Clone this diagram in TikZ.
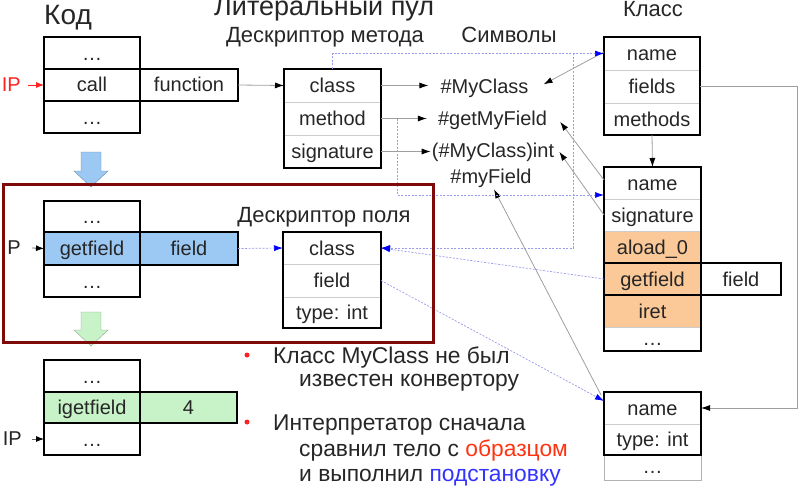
\documentclass[tikz,border=0pt]{standalone}
\usepackage{fontspec}
\setmainfont{Liberation Sans}
\usetikzlibrary{arrows.meta}
\definecolor{orangecell}{HTML}{FBC897}
\definecolor{bluecell}{HTML}{9CC8F4}
\definecolor{greencell}{HTML}{C8F2C8}
\definecolor{darkred}{HTML}{7F0A0A}
\definecolor{lav}{HTML}{9A9AEE}
\definecolor{txt}{HTML}{262626}
\definecolor{redtxt}{HTML}{FF3311}
\definecolor{bluetxt}{HTML}{3333FF}
\definecolor{ipred}{HTML}{FF2222}
\tikzset{
  cell/.style={draw=black!20, line width=0.8pt, inner sep=0pt, outer sep=0pt,
    minimum width=#1, minimum height=32pt, text height=17pt, text depth=3pt,
    font=\fontsize{20}{21}\selectfont, text=txt},
  cell/.default=96pt,
  frame/.style={draw=black, line width=1.6pt},
  conn/.style={draw=black!38, line width=0.8pt, -{Latex[length=9pt,width=6pt,color=black]}},
  dconn/.style={draw=lav, line width=0.7pt, dash pattern=on 2pt off 1.5pt,
    -{Latex[length=9pt,width=6pt,color=blue]}},
  hdr/.style={inner sep=0pt, font=\fontsize{22}{23}\selectfont, text=txt},
  sym/.style={inner sep=0pt, font=\fontsize{20}{21}\selectfont, text=txt},
  bul/.style={inner sep=0pt, font=\fontsize{22.8}{24}\selectfont, text=txt},
  lbl/.style={inner sep=0pt, font=\fontsize{20}{21}\selectfont, text=txt},
}
\begin{document}
\begin{tikzpicture}[x=1pt,y=-1pt]
\path[use as bounding box] (0,0) rectangle (800,487);

% titles
\node[hdr, font=\fontsize{28}{30}\selectfont, anchor=base west] (tcode) at (44,25) {Код};
\node[hdr, font=\fontsize{27}{28}\selectfont, anchor=base west] (tpool) at (214,16) {Литеральный пул};
\node[hdr, anchor=base] (tmd) at (325,43) {Дескриптор метода};
\node[hdr, anchor=base] (tsym) at (509,43) {Символы};
\node[hdr, anchor=base] (tcls) at (653,17) {Класс};
\node[hdr, anchor=base] (tfd) at (324,222) {Дескриптор поля};

% block arrows
\filldraw[fill=bluecell, draw=bluecell!70!black, line width=0.4pt]
  (81,152) -- (101,152) -- (101,171) -- (108,171) -- (91,187) -- (74,171) -- (81,171) -- cycle;
\filldraw[fill=greencell, draw=greencell!70!black, line width=0.4pt]
  (81,312) -- (101,312) -- (101,330) -- (108,330) -- (91,346) -- (74,330) -- (81,330) -- cycle;

% code 1
\node[cell] (c1a) at (92,53) {…};
\node[cell] (c1b) at (92,85) {call};
\node[cell] (c1c) at (92,117) {…};
\node[cell=98pt] (c1f) at (189,85) {function};
\draw[frame] (c1a.north west) rectangle (c1c.south east);
\draw[frame] (c1b.north west) rectangle (c1f.south east);

% code 2
\node[cell, minimum height=31pt] (c2a) at (92,216.5) {…};
\node[cell, minimum height=33pt, fill=bluecell] (c2b) at (92,248.5) {getfield};
\node[cell] (c2c) at (92,281) {…};
\node[cell=98pt, minimum height=33pt, fill=bluecell] (c2f) at (189,248.5) {field};
\draw[frame] (c2a.north west) rectangle (c2c.south east);
\draw[frame] (c2b.north west) rectangle (c2f.south east);

% code 3
\node[cell] (c3a) at (92,376) {…};
\node[cell, minimum height=31pt, fill=greencell] (c3b) at (92,407.5) {igetfield};
\node[cell] (c3c) at (92,439) {…};
\node[cell=97pt, minimum height=31pt, fill=greencell] (c3f) at (188.5,407.5) {4};
\draw[frame] (c3a.north west) rectangle (c3c.south east);
\draw[frame] (c3b.north west) rectangle (c3f.south east);

% method descriptor
\node[cell=97pt, minimum height=33pt] (mclass) at (332.5,85.5) {class};
\node[cell=97pt, minimum height=33pt] (mmethod) at (332.5,118.5) {method};
\node[cell=97pt, minimum height=33pt] (msign) at (332.5,151.5) {signature};
\draw[frame] (mclass.north west) rectangle (msign.south east);

% field descriptor
\node[cell=98pt] (fclass) at (332,248) {class};
\node[cell=98pt, minimum height=33pt] (ffield) at (332,280.5) {field};
\node[cell=98pt, minimum height=31pt] (ftype) at (332,312.5) {type: int};
\draw[frame] (fclass.north west) rectangle (ftype.south east);

% class
\node[cell, minimum height=33pt] (cname) at (652,53.5) {name};
\node[cell, minimum height=33pt] (cfields) at (652,86.5) {fields};
\node[cell] (cmethods) at (652,119) {methods};
\draw[frame] (cname.north west) rectangle (cmethods.south east);

% method structure
\node[cell=97pt] (mname) at (652.5,183) {name};
\node[cell=97pt] (msig) at (652.5,215) {signature};
\node[cell=97pt, fill=orangecell] (maload) at (652.5,247) {aload\_0};
\node[cell=97pt, fill=orangecell] (mget) at (652.5,279) {getfield};
\node[cell=97pt, fill=orangecell] (miret) at (652.5,311) {iret};
\node[cell=97pt, minimum height=24pt, text height=13pt, text depth=1pt] (mdots) at (652.5,339) {…};
\node[cell=80pt] (mfield) at (741,279) {field};
\draw[frame] (mname.north west) rectangle (mdots.south east);
\draw[frame] (mget.north west) rectangle (mfield.south east);

% field structure
\node[cell=97pt] (fsname) at (652.5,408) {name};
\node[cell=97pt, minimum height=31pt] (fstype) at (652.5,439.5) {type: int};
\node[cell=97pt, minimum height=25pt, text height=13pt, text depth=1pt, draw=black!30] (fsdots) at (652.5,467.5) {…};
\draw[frame] (fsname.north west) rectangle (fstype.south east);

% symbols
\node[sym, anchor=base] (sym1) at (484.5,93) {\#MyClass};
\node[sym, anchor=base] (sym2) at (492.5,125) {\#getMyField};
\node[sym, anchor=base] (sym3) at (493,157) {(\#MyClass)int};
\node[sym, anchor=base] (sym4) at (491,183) {\#myField};

% IP labels
\node[lbl, text=ipred, anchor=east] (ip1) at (21,85) {IP};
\node[lbl, anchor=east] (ip2) at (21,248) {P};
\node[lbl, anchor=east] (ip3) at (22,439) {IP};
\draw[draw=ipred, line width=0.8pt, -{Latex[length=8pt,width=6pt,color=ipred]}] ([xshift=7pt]ip1.east) -- (c1b.west);
\draw[draw=black!60, line width=0.8pt, -{Latex[length=8pt,width=6pt,color=black]}] ([xshift=11pt]ip2.east) -- (c2b.west);
\draw[draw=black!60, line width=0.8pt, -{Latex[length=8pt,width=6pt,color=black]}] ([xshift=10pt]ip3.east) -- (c3c.west);

% gray connectors
\draw[conn] (c1f.east) -- (mclass.west);
\draw[conn, shorten >=12pt] (mclass.east) -- (mclass.east -| sym1.west);
\draw[conn, shorten >=11pt] (mmethod.east) -- (mmethod.east -| sym2.west);
\draw[conn, shorten >=1pt] (msign.east) -- (msign.east -| sym3.west);
\draw[conn] ([yshift=1.5pt]cname.west) -- ([xshift=15pt,yshift=3.5pt]sym1.east);
\draw[conn] ([yshift=3pt]mname.west) -- ([xshift=13pt,yshift=-2pt]sym2.east);
\draw[conn] (msig.west) -- ([xshift=5pt]sym3.east);
\draw[conn] ([xshift=-3pt,yshift=-3pt]fsname.north west) -- ([xshift=3pt,yshift=-2pt]sym4.south);
\draw[conn] (cfields.east) -- ++(97,0) |- (fsname.east);
\draw[conn] (cmethods.south) -- (mname.north);

% dotted blue connectors
\coordinate (j1) at (573,53.5);
\coordinate (j2) at (397,118.5);
\draw[dconn] (mclass.north) |- (cname.west);
\draw[dconn] (j1) |- (fclass.east);
\draw[dconn] (j2) |- ([yshift=-12pt]mname.west);
\draw[dconn] (c2f.east) -- (fclass.west);
\draw[dconn] (mget.west) -- (fclass.east);
\draw[dconn] (ffield.east) -- ([yshift=7pt]fsname.west);

% red frame
\draw[darkred, line width=3pt] (3,184) rectangle (433,342);

% bullets
\fill[ipred] (247,355) circle (2.5);
\fill[ipred] (247,422) circle (2.5);
\node[bul, anchor=base west] (b1) at (273,363) {Класс MyClass не был};
\node[bul, anchor=base west] (b1b) at (299,386) {известен конвертору};
\node[bul, anchor=base west] (b2) at (273,430) {Интерпретатор сначала};
\node[bul, anchor=base west] (b2b) at (299,456) {сравнил тело с \textcolor{redtxt}{образцом}};
\node[bul, anchor=base west] (b2c) at (299,481) {и выполнил \textcolor{bluetxt}{подстановку}};
\end{tikzpicture}
\end{document}
